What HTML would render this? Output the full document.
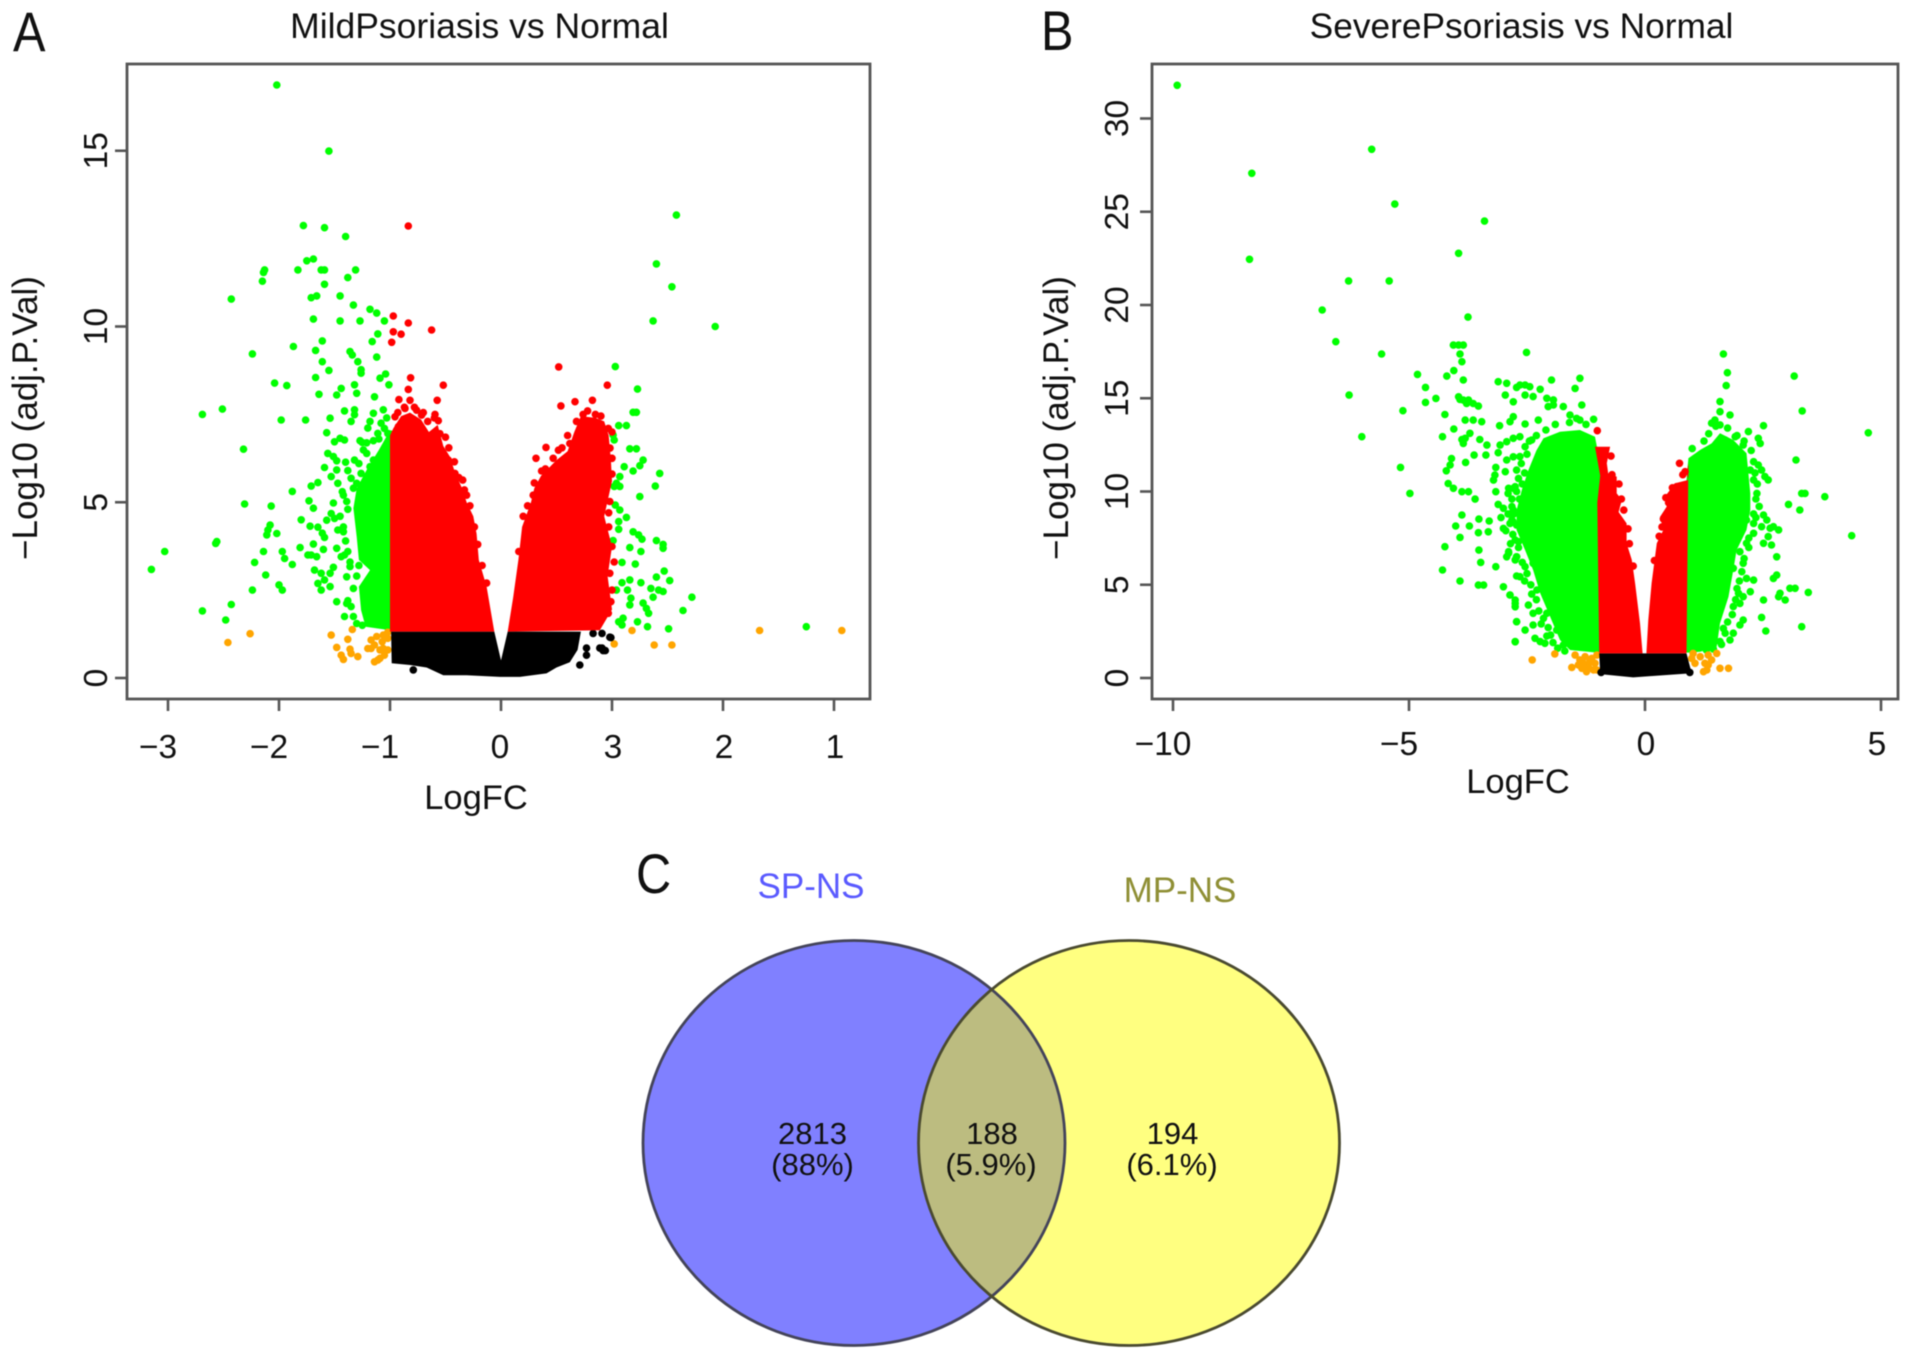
<!DOCTYPE html>
<html lang="en">
<head>
<meta charset="utf-8">
<title>Volcano plots and Venn diagram</title>
<style>
html,body{margin:0;padding:0;background:#fff;}
#figure{display:block;width:1913px;height:1360px;filter:blur(0.6px);font-family:"Liberation Sans",sans-serif;}
text{font-family:"Liberation Sans",sans-serif;fill:#111;}
</style>
</head>
<body>
<svg id="figure" xmlns="http://www.w3.org/2000/svg" width="1913" height="1360" viewBox="0 0 1913 1360">
  <rect x="0" y="0" width="1913" height="1360" fill="#ffffff"/>

  <g id="panelA">
    <text transform="translate(13,51) scale(0.87,1)" font-size="56">A</text>
    <text x="479.5" y="38" font-size="35.5" text-anchor="middle">MildPsoriasis vs Normal</text>
    <text x="476" y="809" font-size="34.5" text-anchor="middle">LogFC</text>
    <text transform="translate(37,418) rotate(-90)" font-size="35" text-anchor="middle">−Log10 (adj.P.Val)</text>
  </g>

  <g id="panelB">
    <text transform="translate(1041,50) scale(0.87,1)" font-size="56">B</text>
    <text x="1521.5" y="38" font-size="35.3" text-anchor="middle">SeverePsoriasis vs Normal</text>
    <text x="1518" y="793" font-size="34.5" text-anchor="middle">LogFC</text>
    <text transform="translate(1068,418) rotate(-90)" font-size="35" text-anchor="middle">−Log10 (adj.P.Val)</text>
  </g>

  <g id="panelC">
    <defs>
      <clipPath id="leftClip"><ellipse cx="854" cy="1143" rx="211" ry="202.5"/></clipPath>
    </defs>
    <text transform="translate(636,893) scale(0.87,1)" font-size="56">C</text>
    <text x="811" y="898" font-size="35" text-anchor="middle" style="fill:#5a5aff">SP-NS</text>
    <text x="1180" y="902" font-size="35" text-anchor="middle" style="fill:#8f8f35">MP-NS</text>
    <ellipse cx="854" cy="1143" rx="211" ry="202.5" fill="#8080ff"/>
    <ellipse cx="1129" cy="1143" rx="210.5" ry="202.5" fill="#ffff80"/>
    <ellipse cx="1129" cy="1143" rx="210.5" ry="202.5" fill="#bcbc80" clip-path="url(#leftClip)"/>
    <ellipse cx="854" cy="1143" rx="211" ry="202.5" fill="none" stroke="#44445a" stroke-width="2.8"/>
    <ellipse cx="1129" cy="1143" rx="210.5" ry="202.5" fill="none" stroke="#4a4a30" stroke-width="2.8"/>
    <text x="812.5" y="1144" font-size="31" text-anchor="middle">2813</text>
    <text x="812.5" y="1175" font-size="31" text-anchor="middle">(88%)</text>
    <text x="992" y="1144" font-size="31" text-anchor="middle">188</text>
    <text x="991" y="1175" font-size="31" text-anchor="middle">(5.9%)</text>
    <text x="1172.5" y="1144" font-size="31" text-anchor="middle">194</text>
    <text x="1172" y="1175" font-size="31" text-anchor="middle">(6.1%)</text>
  </g>
</svg>

<script>
/* ---------- Panel A data: [logFC, -log10 adj.P] ---------- */
const xTicksA = [-3, -2, -1, 0, 1, 2, 3];
const xTickLabelsA = ['−3', '−2', '−1', '0', '3', '2', '1'];
const yTicksA = [0, 5, 10, 15];
const yTickLabelsA = ['0', '5', '10', '15'];

const greenPointsA = [
[-2.02,16.87],[-1.55,14.99],[-1.78,12.87],[-1.59,12.81],[-1.40,12.56],[-1.75,11.87],[-1.69,11.92],[-2.13,11.61],[-2.14,11.54],[-2.15,11.29],
[-1.83,11.61],[-1.62,11.61],[-1.59,11.61],[-1.31,11.61],[-1.38,11.39],[-1.59,11.20],[-2.43,10.78],[-1.71,10.82],[-1.66,10.87],[-1.45,10.87],
[-1.33,10.61],[-1.18,10.49],[-1.12,10.38],[-1.69,10.21],[-1.45,10.16],[-1.27,10.16],[-1.05,10.16],[-1.11,9.79],[-1.16,9.57],[-1.87,9.43],
[-1.61,9.59],[-1.67,9.32],[-2.24,9.22],[-1.36,9.29],[-1.34,9.19],[-1.29,9.00],[-1.26,8.77],[-1.26,8.67],[-1.12,9.13],[-1.61,9.00],
[-1.55,8.75],[-1.67,8.55],[-1.09,8.53],[-1.04,8.65],[-2.04,8.39],[-1.93,8.32],[-1.01,8.34],[-1.32,8.34],[-1.44,8.24],[-1.48,8.05],
[-1.64,8.07],[-1.30,8.10],[-1.14,8.00],[-2.51,7.65],[-2.69,7.50],[-1.98,7.34],[-1.76,7.34],[-1.54,7.39],[-1.41,7.60],[-1.32,7.63],
[-1.32,7.49],[-1.35,7.30],[-1.15,7.53],[-1.18,7.30],[-1.20,7.11],[-1.11,6.96],[-1.06,7.63],[-1.02,6.96],[-1.08,7.25],[-1.03,7.40],
[-1.57,6.98],[-1.50,6.72],[-1.45,6.82],[-1.41,6.77],[-1.27,6.75],[-1.21,6.69],[-1.56,6.39],[-1.51,6.30],[-1.48,6.18],[-1.40,6.14],
[-1.59,5.99],[-1.48,5.92],[-1.53,5.73],[-1.47,5.54],[-1.35,5.68],[-1.30,5.54],[-1.26,5.82],[-1.33,5.40],[-1.21,6.39],[-1.15,6.20],
[-1.18,6.01],[-1.24,6.49],[-1.88,5.31],[-1.71,5.46],[-1.65,5.56],[-2.32,6.51],[-2.31,4.95],[-2.07,4.89],[-1.73,5.04],[-1.69,4.83],
[-1.51,4.98],[-1.43,5.30],[-1.39,5.02],[-1.80,4.50],[-2.08,4.35],[-2.10,4.21],[-2.11,4.07],[-2.02,4.11],[-1.72,4.32],[-1.65,4.29],
[-1.61,4.12],[-1.59,4.00],[-1.57,4.49],[-1.53,4.68],[-1.50,4.54],[-1.47,4.21],[-1.42,4.16],[-2.56,3.88],[-2.57,3.83],[-2.14,3.60],
[-1.97,3.60],[-1.95,3.40],[-1.81,3.71],[-1.69,3.81],[-1.74,3.50],[-1.66,3.45],[-1.71,3.50],[-1.60,3.66],[-1.48,3.69],[-1.44,3.45],
[-1.41,3.50],[-2.22,3.29],[-1.88,3.23],[-2.12,2.93],[-1.68,3.07],[-1.62,2.98],[-1.54,2.98],[-1.51,3.15],[-1.65,2.69],[-1.59,2.79],
[-1.54,2.60],[-1.62,2.50],[-2.00,2.65],[-1.97,2.50],[-2.24,2.50],[-2.43,2.09],[-2.69,1.91],[-2.48,1.65],[-1.48,2.17],[-1.39,2.12],
[-1.35,2.03],[-1.41,1.75],[-1.36,3.17],[-1.39,2.88],[-1.33,2.55],[-3.03,3.60],[-3.15,3.09],
[-1.38,4.8],[-1.42,4.3],[-1.40,3.9],[-1.38,3.6],[-1.36,3.3],[-1.45,4.6],[-1.30,2.9],[-1.28,3.2],[-1.38,2.2],[-1.33,1.75],
[-1.30,1.55],[-1.25,1.5],[-1.42,5.2],[-1.38,5.9],[-1.28,6.1],[-1.10,6.8],[-1.32,6.2],[-1.25,6.7],[-1.15,6.75],[-1.05,7.1],
[1.58,13.17],[1.40,11.78],[1.54,11.13],[1.37,10.16],[1.93,10.00],[1.03,8.86],[1.23,8.22],[1.19,7.56],[1.22,7.56],[1.06,7.18],
[1.13,7.18],[1.01,6.91],[1.02,6.77],[1.16,6.52],[1.22,6.52],[1.28,6.20],[1.25,6.04],[1.11,6.01],[1.19,5.89],[1.43,5.82],
[1.39,5.46],[1.25,5.16],[1.07,5.73],[1.04,5.54],[1.02,5.45],[1.07,5.45],[1.03,4.92],[1.07,4.78],[1.13,4.57],[1.06,4.45],
[1.06,4.23],[1.19,4.16],[1.24,4.07],[1.27,3.95],[1.01,3.91],[1.40,3.91],[1.46,3.80],[1.46,3.69],[1.16,3.71],[1.26,3.60],
[1.09,3.29],[1.21,3.24],[1.47,3.04],[1.40,2.87],[1.52,2.77],[1.16,2.79],[1.09,2.71],[1.26,2.71],[1.04,2.50],[1.14,2.50],
[1.35,2.55],[1.42,2.50],[1.46,2.46],[1.37,2.30],[1.72,2.30],[1.17,2.27],[1.16,2.08],[1.28,2.13],[1.31,1.98],[1.33,1.84],
[1.64,1.92],[1.10,1.70],[1.06,1.60],[1.09,1.51],[1.23,1.60],[1.32,1.46],[1.51,1.40],[2.75,1.46]
];
const greenCoreA = [[-0.9,7.0],[-1.0,7.05],[-1.10,6.49],[-1.21,5.92],[-1.30,5.40],[-1.33,4.83],[-1.30,4.02],[-1.28,3.36],[-1.18,3.07],[-1.28,2.60],[-1.26,1.93],[-1.22,1.46],[-1.0,1.36],[-0.9,1.36]];
const orangePointsA = [
[-2.46,1.01],[-2.26,1.26],[-1.53,1.22],[-1.34,1.38],[-1.38,1.10],[-1.48,0.87],[-1.44,0.65],[-1.42,0.53],[-1.36,0.82],[-1.35,0.70],
[-1.29,0.61],[-1.20,0.84],[-1.17,1.08],[-1.12,1.18],[-1.06,1.22],[-1.02,1.13],[-1.14,0.94],[-1.09,0.80],[-1.05,0.65],[-1.11,0.51],
[-1.14,0.46],[-1.02,0.80],[-1.02,1.30],[-1.07,1.03],[-1.06,0.84],[-1.17,0.84],[-1.09,0.56],[1.18,1.35],[2.33,1.35],[3.07,1.35],
[1.38,0.94],[1.54,0.94],[1.02,0.97]
];
const redCoreLeftA = [[-1.0,1.32],[-1.0,6.9],[-0.97,7.1],[-0.9,7.45],[-0.82,7.55],[-0.72,7.35],[-0.65,7.0],[-0.57,7.2],[-0.52,6.6],[-0.46,6.3],[-0.41,5.8],[-0.35,5.4],[-0.31,5.0],[-0.25,4.6],[-0.22,4.1],[-0.2,3.36],[-0.13,2.6],[-0.06,1.32]];
const redCoreRightA = [[0.06,1.32],[0.11,2.3],[0.157,3.36],[0.19,4.3],[0.27,5.0],[0.30,5.4],[0.36,5.75],[0.5,6.2],[0.6,6.45],[0.66,7.0],[0.72,7.45],[0.85,7.4],[0.93,7.3],[0.97,6.9],[0.99,6.2],[1.0,5.6],[0.93,4.6],[1.0,3.74],[0.96,2.9],[1.0,1.95],[0.89,1.36]];
const redPointsA = [
[-0.835,12.86],[-0.97,10.3],[-0.835,10.1],[-0.625,9.9],[-0.97,9.85],[-0.90,9.78],[-0.985,9.55],[-0.814,8.54],[-0.52,8.33],[-0.835,8.21],
[-0.92,7.92],[-0.82,7.9],[-0.575,7.9],[-0.76,7.62],[-0.715,7.48],[-0.865,7.67],[-0.595,7.5],[-0.565,7.32],[-0.955,7.43],[-0.925,7.15],
[-0.55,6.95],[-0.345,5.63],[-0.31,5.2],[-0.415,5.82],[-0.475,6.2],[0.52,8.85],[0.958,8.33],[0.54,7.74],[0.667,7.86],[0.823,7.9],
[0.315,6.25],[0.366,5.89],[0.405,6.56],[0.29,5.2],[0.62,6.67],[0.517,6.48],[0.727,6.77],[0.862,7.14],[0.967,7.1],[0.997,6.25],
[0.877,6.77],[0.982,6.54],[1.0,6.25],[0.98,5.02],[1.0,3.74],[0.98,2.98],[0.99,2.17],[0.967,1.84],
[-0.93,7.55],[-0.87,7.7],[-0.78,7.7],[-0.7,7.55],[-0.66,7.3],[-0.6,7.4],[-0.5,6.85],[-0.47,6.55],[-0.42,6.15],[-0.38,5.7],
[-0.33,5.35],[-0.28,4.9],[-0.24,4.3],[-0.21,3.8],[-0.17,3.2],[-0.13,2.7],
[0.16,3.6],[0.2,4.6],[0.24,4.9],[0.3,5.55],[0.4,5.95],[0.47,6.25],[0.55,6.55],[0.6,6.9],[0.68,7.3],[0.74,7.5],
[0.78,7.6],[0.85,7.5],[0.9,7.45],[1.0,7.0],[1.0,5.8],[0.97,4.7],[0.97,4.3],[1.02,3.3],[1.0,2.5]
];
const blackCoreA = [[-0.99,1.32],[-0.06,1.32],[0,0.5],[0.06,1.32],[0.72,1.32],[0.69,0.8],[0.62,0.45],[0.5,0.3],[0.41,0.13],[0.17,0.03],[-0.01,0.03],[-0.31,0.08],[-0.52,0.08],[-0.67,0.3],[-0.82,0.37],[-0.985,0.42]];
const blackPointsA = [[-0.79,0.23],[0.71,0.37],[0.77,0.85],[0.77,0.65],[0.91,0.85],[0.94,0.78],[0.98,1.16],[0.83,1.27],[0.91,1.27],[0.89,0.85],[0.92,0.78],[0.99,1.15]];

/* ---------- Panel B data: [logFC, -log10 adj.P] ---------- */
const xTicksB = [-10, -5, 0, 5];
const xTickLabelsB = ['−10', '−5', '0', '5'];
const yTicksB = [0, 5, 10, 15, 20, 25, 30];
const yTickLabelsB = ['0', '5', '10', '15', '20', '25', '30'];

const greenPointsB = [
[-9.91,31.78],[-5.79,28.35],[-8.33,27.06],[-5.30,25.41],[-8.38,22.45],[-3.95,22.77],[-6.28,21.29],[-5.42,21.29],[-6.84,19.73],[-3.40,24.5],[-3.75,19.35],
[-6.55,18.03],[-5.58,17.37],[-4.06,17.85],[-3.95,17.85],[-3.85,17.85],[-3.92,17.37],[-3.88,16.96],[-4.82,16.28],[-4.20,16.19],[-4.05,16.48],
[-3.85,15.98],[-4.65,15.58],[-6.27,15.17],[-4.43,14.99],[-4.65,14.78],[-5.13,14.33],[-4.24,14.13],[-3.95,15.08],[-3.85,14.9],[-3.74,14.9],
[-3.64,14.72],[-3.53,14.58],[-3.92,14.94],[-3.78,14.72],[-3.11,15.89],[-2.93,15.8],[-2.72,15.58],[-2.96,15.17],[-2.79,14.81],[-4.05,13.35],
[-3.81,13.83],[-3.64,13.83],[-3.46,13.74],[-2.79,14.01],[-2.86,13.74],[-3.08,13.53],[-6.0,12.94],[-4.29,12.94],[-3.71,13.12],[-3.81,12.85],
[-3.85,12.58],[-3.88,12.79],[-3.5,12.79],[-3.35,12.49],[-3.07,12.49],[-2.93,12.67],[-2.79,12.85],[-2.65,12.94],[-3.62,11.95],[-3.37,11.95],
[-3.11,12.08],[-4.1,11.77],[-4.13,11.42],[-4.21,11.11],[-3.8,11.56],[-5.18,11.29],[-2.93,11.69],[-2.79,11.86],[-3.16,11.29],[-2.96,11.06],
[-3.21,10.61],[-3.18,10.88],[-4.17,10.43],[-4.06,10.17],[-3.88,9.99],[-3.74,9.99],[-4.98,9.9],[-3.16,9.99],[-2.89,10.17],[-2.79,10.17],
[-3.6,9.59],[-3.11,9.31],[-3.88,8.74],[-2.79,9.0],[-2.82,8.47],[-2.72,8.2],[-3.52,8.52],[-3.3,8.42],[-4.01,8.15],[-3.72,8.15],
[-3.53,7.79],[-3.32,7.84],[-3.0,8.02],[-3.92,7.54],[-4.24,7.04],[-3.52,6.86],[-2.68,7.31],[-2.89,6.77],[-2.93,6.5],[-3.48,6.2],
[-3.16,5.97],[-2.72,6.5],[-4.29,5.79],[-2.72,5.47],[-3.92,5.2],[-3.53,4.98],[-3.42,4.98],[-3.0,4.89],[-2.86,4.45],[-2.75,4.18],
[-2.75,3.82],[-2.72,3.02],[-2.75,1.94],
[-2.51,17.46],[-1.98,15.98],[-1.38,16.07],[-1.48,15.53],[-2.65,15.71],[-2.54,15.71],[-2.44,15.62],[-2.22,15.48],[-2.54,15.17],[-2.37,15.09],
[-2.08,15.0],[-1.94,14.91],[-2.05,14.55],[-1.94,14.64],[-1.73,14.55],[-1.34,14.64],[-2.26,13.83],[-2.54,13.62],[-1.59,14.1],[-1.45,13.92],
[-1.38,13.83],[-1.09,13.87],[-2.4,12.76],[-2.54,12.4],[-2.65,11.87],[-2.72,11.15],[-2.75,10.26],[-2.82,9.19],[-2.86,8.29],[-2.75,7.4],
[-2.89,6.69],[-2.75,6.33],[-2.65,5.43],[-2.47,3.91],[-2.37,3.47],[-2.75,4.0],[-2.72,3.02],[-2.37,2.84],[-2.54,2.57],[-2.75,1.95],
[-2.22,1.95],[-2.33,2.13],[-2.12,1.86],[-2.86,4.45],[-2.29,4.72],[-2.15,5.08],[-2.37,6.15],[-2.54,5.97],[-2.22,6.33],[-2.47,7.4],
[-2.08,3.47],[-1.87,2.57],[-1.73,1.77],
[-1.25,13.6],[-1.6,13.7],[-1.9,13.6],[-2.1,13.3],[-2.3,13.0],[-2.45,12.7],[-2.5,12.0],[-2.62,11.5],[-2.55,11.0],[-2.68,10.7],
[-2.6,10.4],[-2.72,10.0],[-2.66,9.6],[-2.82,9.6],[-2.78,8.8],[-2.9,8.8],[-2.8,8.4],[-2.95,7.9],[-2.8,7.7],[-2.85,7.2],
[-2.68,7.0],[-2.72,6.5],[-2.6,6.2],[-2.5,5.6],[-2.55,5.2],[-2.42,5.0],[-2.4,4.5],[-2.3,4.2],[-2.25,3.6],[-2.15,3.2],
[-2.2,2.9],[-2.05,2.7],[-2.0,2.3],[-1.95,1.9],[-2.08,2.25],[-1.85,1.6],[-1.7,1.45],[-2.9,9.9],[-3.0,9.1],[-3.05,8.6],
[1.66,17.37],[1.745,16.37],[1.72,15.68],[3.16,16.19],[3.33,14.32],[4.73,13.15],[1.59,14.82],[1.59,14.28],[1.48,13.83],[1.41,13.66],
[1.8,14.1],[1.59,13.57],[2.51,13.53],[2.19,13.21],[2.4,12.85],[2.44,12.58],[1.91,12.94],[1.7,12.76],[2.08,12.49],[3.2,11.69],
[2.4,11.42],[2.47,11.15],[2.54,10.8],[2.61,10.62],[2.23,11.15],[2.3,10.62],[2.37,9.9],[3.32,9.9],[3.39,9.9],[3.81,9.72],
[3.04,9.31],[3.28,9.01],[2.51,8.74],[4.38,7.63],[2.15,8.47],[2.3,8.29],[2.47,8.11],[2.65,8.03],[2.83,7.94],[2.58,8.47],
[2.72,8.11],[2.61,7.58],[2.68,7.13],[2.79,6.5],[2.51,7.22],[2.3,7.76],[2.15,7.22],[2.01,6.77],[1.87,5.88],[2.08,6.15],
[2.15,5.34],[2.3,5.25],[1.98,4.54],[2.23,4.63],[2.51,4.18],[2.79,5.52],[2.72,5.34],[3.07,4.81],[3.18,4.81],[2.86,4.54],
[2.97,4.18],[2.83,4.36],[3.46,4.59],[2.47,3.25],[2.56,2.52],[3.32,2.75],[2.08,3.11],[2.01,2.84],[1.87,2.4],[1.8,2.04],
[1.66,2.66],[1.59,1.95],[1.87,3.83],[2.01,4.0],[2.08,4.36],
[1.0,12.3],[1.25,12.7],[1.35,13.1],[1.5,13.5],[1.75,13.4],[1.95,13.0],[2.1,12.7],[2.25,12.2],[2.3,11.6],[2.33,11.0],
[2.38,10.4],[2.35,9.6],[2.42,9.2],[2.3,8.8],[2.35,8.6],[2.2,7.5],[2.2,7.0],[2.1,6.4],[2.05,5.7],[2.0,5.2],
[1.95,4.8],[1.92,4.2],[1.85,3.4],[1.75,3.0],[1.7,2.4],[1.62,1.8],[1.45,1.55],[1.3,1.5]
];
const greenCoreLeftB = [[-0.9,12.3],[-1.02,12.4],[-1.06,12.94],[-1.38,13.3],[-1.8,13.2],[-2.15,12.85],[-2.3,12.2],[-2.47,11.15],[-2.61,10.08],[-2.72,9.0],[-2.72,7.93],[-2.54,6.86],[-2.37,5.79],[-2.22,4.54],[-2.01,3.29],[-1.8,2.04],[-1.59,1.5],[-1.02,1.36],[-0.9,1.36]];
const greenCoreRightB = [[0.92,11.78],[1.17,12.23],[1.41,12.58],[1.59,13.12],[1.87,12.76],[2.15,12.05],[2.19,10.97],[2.23,9.9],[2.23,9.01],[2.15,7.94],[1.94,6.86],[1.87,5.79],[1.77,4.36],[1.59,2.93],[1.52,1.68],[1.17,1.41],[0.92,1.36],[0.8,1.36],[0.8,10.3],[0.88,10.6]];
const orangePointsB = [
[-2.39,0.97],[-1.91,1.29],[-1.48,1.23],[-1.38,0.97],[-1.27,1.14],[-1.13,1.05],[-1.02,1.23],[-1.55,0.57],[-1.41,0.7],[-1.31,0.79],
[-1.2,0.61],[-1.09,0.43],[-1.24,0.34],[-1.06,0.79],[-1.02,0.43],[-1.34,0.52],[-1.17,0.88],[0.99,1.05],[1.06,0.79],[1.17,1.14],
[1.34,1.23],[1.52,1.32],[1.27,0.79],[1.34,0.7],[1.24,0.34],[1.41,0.97],[1.59,0.52],[1.77,0.52],[1.02,1.32],[1.31,0.43]
];
const redCoreLeftB = [[-0.97,1.32],[-1.01,9.4],[-0.95,10.85],[-1.06,12.4],[-0.74,12.4],[-0.81,11.51],[-0.78,10.97],[-0.6,10.8],[-0.6,9.9],[-0.49,9.55],[-0.56,8.9],[-0.39,8.29],[-0.39,7.22],[-0.28,6.33],[-0.21,5.08],[-0.105,2.93],[-0.05,1.32]];
const redCoreRightB = [[0.03,1.32],[0.07,3.11],[0.14,5.08],[0.25,7.22],[0.39,7.94],[0.32,8.65],[0.46,9.19],[0.42,9.72],[0.64,10.44],[0.92,10.62],[0.88,10.97],[0.92,11.51],[0.88,1.32]];
const redPointsB = [[-1.01,13.26],[0.73,11.51],[0.85,11.06],[0.44,9.67],[0.39,8.53],[0.67,10.26],
[-0.72,11.9],[-0.7,10.9],[-0.55,10.4],[-0.5,9.6],[-0.45,9.0],[-0.36,8.0],[-0.33,7.2],[-0.25,6.0],
[0.2,6.3],[0.3,7.6],[0.36,8.1],[0.5,9.4],[0.58,10.2],[0.8,10.9]];
const blackCoreB = [[-0.97,1.32],[0.88,1.32],[0.99,0.25],[0.46,0.16],[-0.25,0.03],[-0.95,0.21]];
const blackPointsB = [[-0.93,0.3],[0.95,0.3]];

/* ---------- Axis functions ---------- */
const xA = v => 501 + 111 * v;
const yA = v => 678 - 35.15 * v;
const xB = v => 1645 + 47.2 * v;
const yB = v => 678 - 18.65 * v;

const SVG_NS = 'http://www.w3.org/2000/svg';
const DOT_RADIUS = 3.8;

function drawRegion(group, vertices, xf, yf, color, name) {
  const el = document.createElementNS(SVG_NS, 'polygon');
  el.setAttribute('points', vertices.map(p => xf(p[0]).toFixed(1) + ',' + yf(p[1]).toFixed(1)).join(' '));
  el.setAttribute('fill', color);
  
  
  group.appendChild(el);
}

function drawPoints(group, points, xf, yf, color, name) {
  points.forEach(p => {
    const el = document.createElementNS(SVG_NS, 'circle');
    el.setAttribute('cx', xf(p[0]).toFixed(1));
    el.setAttribute('cy', yf(p[1]).toFixed(1));
    el.setAttribute('r', DOT_RADIUS);
    el.setAttribute('fill', color);
    
    
    group.appendChild(el);
  });
}

function drawAxes(group, box, xTicks, xLabels, yTicks, yLabels, xf, yf, labelBaseY, labelBaseX, posNudge, zeroNudge) {
  const frame = document.createElementNS(SVG_NS, 'rect');
  frame.setAttribute('x', box.left);
  frame.setAttribute('y', box.top);
  frame.setAttribute('width', box.right - box.left);
  frame.setAttribute('height', box.bottom - box.top);
  frame.setAttribute('fill', 'none');
  frame.setAttribute('stroke', '#555555');
  frame.setAttribute('stroke-width', '2.8');
  
  
  group.appendChild(frame);

  xTicks.forEach((v, i) => {
    const tick = document.createElementNS(SVG_NS, 'line');
    tick.setAttribute('x1', xf(v));
    tick.setAttribute('x2', xf(v));
    tick.setAttribute('y1', box.bottom);
    tick.setAttribute('y2', box.bottom + 12);
    tick.setAttribute('stroke', '#555555');
    tick.setAttribute('stroke-width', '2.6');
    
    
    group.appendChild(tick);

    const label = document.createElementNS(SVG_NS, 'text');
    const nudge = v < 0 ? -10 : (v > 0 ? posNudge : zeroNudge);
    label.setAttribute('x', xf(v) + nudge);
    label.setAttribute('y', labelBaseY);
    label.setAttribute('font-size', '33.5');
    label.setAttribute('text-anchor', 'middle');
    
    
    label.textContent = xLabels[i];
    group.appendChild(label);
  });

  yTicks.forEach((v, i) => {
    const tick = document.createElementNS(SVG_NS, 'line');
    tick.setAttribute('x1', box.left);
    tick.setAttribute('x2', box.left - 12);
    tick.setAttribute('y1', yf(v));
    tick.setAttribute('y2', yf(v));
    tick.setAttribute('stroke', '#555555');
    tick.setAttribute('stroke-width', '2.6');
    
    
    group.appendChild(tick);

    const label = document.createElementNS(SVG_NS, 'text');
    label.setAttribute('transform', 'translate(' + labelBaseX + ',' + yf(v) + ') rotate(-90)');
    label.setAttribute('font-size', '33.5');
    label.setAttribute('text-anchor', 'middle');
    
    
    label.textContent = yLabels[i];
    group.appendChild(label);
  });
}

/* ---------- Panel A ---------- */
const gA = document.getElementById('panelA');
drawRegion(gA, greenCoreA, xA, yA, '#00ff00', 'green-cloud-down');
drawPoints(gA, greenPointsA, xA, yA, '#00ff00', 'point-significant-green');
drawPoints(gA, orangePointsA, xA, yA, '#ffa500', 'point-orange');
drawRegion(gA, blackCoreA, xA, yA, '#000000', 'black-cloud');
drawPoints(gA, blackPointsA, xA, yA, '#000000', 'point-black');
drawRegion(gA, redCoreLeftA, xA, yA, '#ff0000', 'red-cloud-left');
drawRegion(gA, redCoreRightA, xA, yA, '#ff0000', 'red-cloud-right');
drawPoints(gA, redPointsA, xA, yA, '#ff0000', 'point-red');
drawAxes(gA, {left:127, right:870, top:64, bottom:699}, xTicksA, xTickLabelsA, yTicksA, yTickLabelsA, xA, yA, 758, 107, 1, -1);

/* ---------- Panel B ---------- */
const gB = document.getElementById('panelB');
drawRegion(gB, greenCoreLeftB, xB, yB, '#00ff00', 'green-cloud-left');
drawRegion(gB, greenCoreRightB, xB, yB, '#00ff00', 'green-cloud-right');
drawPoints(gB, greenPointsB, xB, yB, '#00ff00', 'point-significant-green');
drawPoints(gB, orangePointsB, xB, yB, '#ffa500', 'point-orange');
drawRegion(gB, blackCoreB, xB, yB, '#000000', 'black-cloud');
drawPoints(gB, blackPointsB, xB, yB, '#000000', 'point-black');
drawRegion(gB, redCoreLeftB, xB, yB, '#ff0000', 'red-cloud-left');
drawRegion(gB, redCoreRightB, xB, yB, '#ff0000', 'red-cloud-right');
drawPoints(gB, redPointsB, xB, yB, '#ff0000', 'point-red');
drawAxes(gB, {left:1152, right:1898, top:64, bottom:699}, xTicksB, xTickLabelsB, yTicksB, yTickLabelsB, xB, yB, 755, 1128, -4, 1);
</script>
</body>
</html>
